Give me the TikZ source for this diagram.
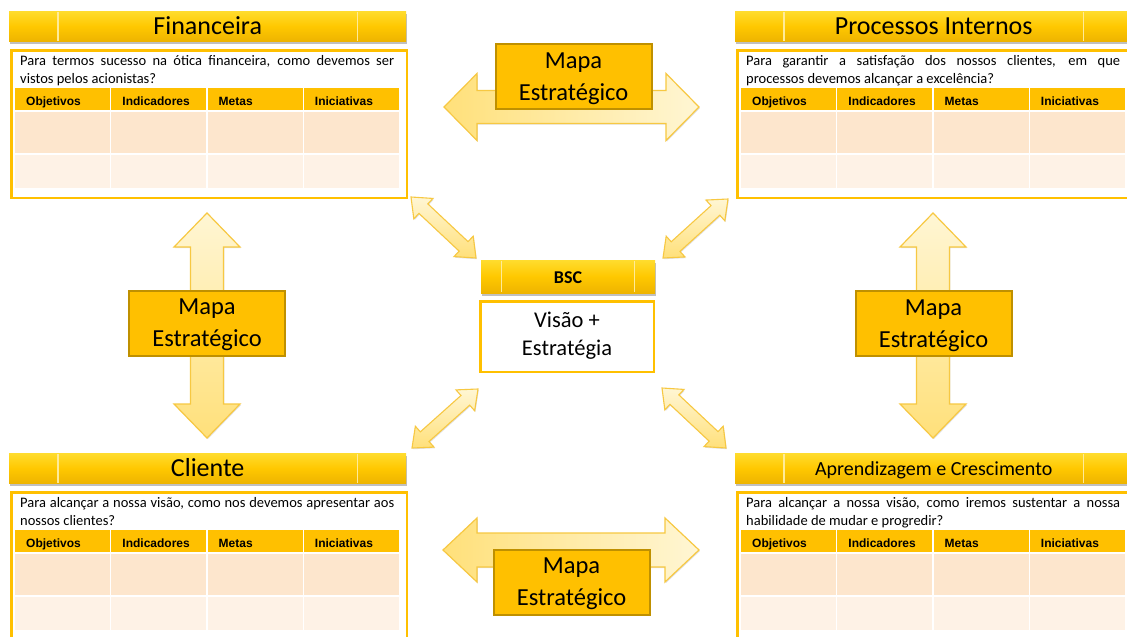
\documentclass[tikz,border=0pt]{standalone}
\usepackage{fontspec}
\setmainfont{Carlito}
\newfontfamily\arialfont{Liberation Sans}
\usetikzlibrary{calc,shadows}

\definecolor{gold}{HTML}{FFC000}
\definecolor{golddark}{HTML}{BF9000}
\definecolor{barhi}{HTML}{FFDC2E}
\definecolor{barmid}{HTML}{FFC800}
\definecolor{barlo}{HTML}{EEB400}
\definecolor{barline}{HTML}{FFEB99}
\definecolor{rowa}{HTML}{FDE6CD}
\definecolor{rowb}{HTML}{FEF2E6}
\definecolor{arrowdeep}{HTML}{FFE07A}
\definecolor{arrowpale}{HTML}{FFF6D4}
\definecolor{arrowline}{HTML}{F7C842}

\tikzset{
  titlebar/.style={minimum height=30pt, inner sep=0pt, text depth=0pt,
    top color=barhi, bottom color=barlo, middle color=barmid,
    drop shadow={shadow xshift=0.6pt, shadow yshift=-2.5pt, opacity=0.35, fill=black!70}},
  divider/.style={draw=barline, line width=1.3pt},
  panelbox/.style={anchor=north west, minimum width=395.5pt, minimum height=147.5pt,
    draw=gold, line width=2.5pt, fill=white, inner sep=0pt},
  hcell/.style={anchor=north west, fill=gold, minimum width=95pt, minimum height=22pt,
    inner xsep=11pt, inner ysep=0pt, text width=73pt, align=left,
    text height=12pt, text depth=0pt,
    font=\arialfont\bfseries\fontsize{12}{12}\selectfont},
  cella/.style={anchor=north west, fill=rowa, minimum width=95pt, minimum height=41pt, inner sep=0pt},
  cellb/.style={anchor=north west, fill=rowb, minimum width=95pt, minimum height=33pt, inner sep=0pt},
  question/.style={anchor=base west, inner sep=0pt, font=\fontsize{14.5}{17}\selectfont},
  mapbox/.style={fill=gold, draw=golddark, line width=2pt, minimum width=156pt,
    minimum height=65pt, align=center, inner sep=0pt, font=\fontsize{24.5}{32}\selectfont},
  bigarrow/.style={draw=arrowline, line width=1.2pt, line join=miter,
    drop shadow={shadow xshift=0.8pt, shadow yshift=-1.2pt, opacity=0.12, fill=black}},
  smallarrow/.style={draw=arrowline, line width=1.1pt, line join=miter,
    top color=arrowpale, bottom color=arrowdeep,
    drop shadow={shadow xshift=0.8pt, shadow yshift=-1.2pt, opacity=0.12, fill=black}},
}

% struts fixing the vertical placement of two-line labels
\newcommand\topstrut[1]{\rule{0pt}{#1}}
\newcommand\botstrut[1]{\rule[-#1]{0pt}{#1}}
\newcommand\maplabel{\topstrut{21pt}Mapa\\Estratégico\botstrut{6pt}}

% double block arrow between two named coordinates:
% #1 name, #2 tail, #3 tip, #4 shaft half width, #5 head half width, #6 head length, #7 style
\newcommand\blockarrow[7]{%
  \coordinate (#1-p) at ($(#2)!#6!(#3)$);
  \coordinate (#1-q) at ($(#3)!#6!(#2)$);
  \path[#7] (#2) -- ($(#1-p)!#5!90:(#3)$) -- ($(#1-p)!#4!90:(#3)$)
    -- ($(#1-q)!#4!90:(#3)$) -- ($(#1-q)!#5!90:(#3)$) -- (#3)
    -- ($(#1-q)!#5!-90:(#3)$) -- ($(#1-q)!#4!-90:(#3)$)
    -- ($(#1-p)!#4!-90:(#3)$) -- ($(#1-p)!#5!-90:(#3)$) -- cycle;
}

% one perspective panel: #1 name, #2/#3 offset, #4 title style, #5 title, #6/#7 question lines
\newcommand\bscpanel[7]{%
  \begin{scope}[shift={(#2,#3)}]
    \node[titlebar, anchor=north west, minimum width=397pt, #4] (#1-bar) at (9,11) {#5};
    \draw[divider] ($(#1-bar.north west)+(49,0.8)$) -- ($(#1-bar.south west)+(49,-0.8)$);
    \draw[divider] ($(#1-bar.north east)+(-49,0.8)$) -- ($(#1-bar.south east)+(-49,-0.8)$);
    \node[panelbox] (#1-box) at (10.25,49.25) {};
    \node[question] (#1-q1) at (20,65) {\makebox[374pt][s]{#6}};
    \node[question] (#1-q2) at (20,83) {#7};
    \foreach \i/\lab in {1/Objetivos,2/Indicadores,3/Metas,4/Iniciativas} {
      \node[hcell] (#1-h\i) at ({15+96.25*(\i-1)},88) {\lab};
      \node[cella] (#1-a\i) at ({15+96.25*(\i-1)},112) {};
      \node[cellb] (#1-b\i) at ({15+96.25*(\i-1)},155) {};
    }
  \end{scope}
}

\begin{document}
\begin{tikzpicture}[x=1pt, y=-1pt]
  \useasboundingbox (0,0) rectangle (1127,637);
  \clip (0,0) rectangle (1127,637);
  \fill[white] (0,0) rectangle (1127,637);

  % four perspectives
  \bscpanel{fin}{0}{0}{font=\fontsize{26}{26}\selectfont, text height=16.6pt}{Financeira}
    {Para termos sucesso na ótica financeira, como devemos ser}{vistos pelos acionistas?}
  \bscpanel{proc}{726}{0}{font=\fontsize{26}{26}\selectfont, text height=16.6pt}{Processos Internos}
    {Para garantir a satisfação dos nossos clientes, em que}{processos devemos alcançar a excelência?}
  \bscpanel{cli}{0}{442}{font=\fontsize{26}{26}\selectfont, text height=16.6pt}{Cliente}
    {Para alcançar a nossa visão, como nos devemos apresentar aos}{nossos clientes?}
  \bscpanel{apr}{726}{442}{font=\fontsize{20}{20}\selectfont, text height=14pt}{Aprendizagem e Crescimento}
    {Para alcançar a nossa visão, como iremos sustentar a nossa}{habilidade de mudar e progredir?}

  % centre: BSC
  \node[titlebar, minimum width=174pt, minimum height=33pt, text height=13.6pt,
    font=\bfseries\fontsize{18}{18}\selectfont] (bsc) at (568,276.5) {BSC};
  \draw[divider] ($(bsc.north west)+(21,0.8)$) -- ($(bsc.south west)+(21,-0.8)$);
  \draw[divider] ($(bsc.north east)+(-21,0.8)$) -- ($(bsc.south east)+(-21,-0.8)$);
  \node[draw=gold, line width=2.5pt, fill=white, minimum width=173.5pt, minimum height=70.5pt,
    inner sep=0pt, align=center, font=\fontsize{22.5}{28.4}\selectfont] (vis) at (567,336.5)
    {\topstrut{18pt}Visão +\\Estratégia\botstrut{8pt}};

  % strategic map arrows between the perspectives
  \coordinate (top-l) at (444,107);  \coordinate (top-r) at (699,107);
  \coordinate (bot-l) at (443,550);  \coordinate (bot-r) at (699,550);
  \coordinate (lft-t) at (207,213);  \coordinate (lft-b) at (207,438);
  \coordinate (rgt-t) at (933,213);  \coordinate (rgt-b) at (933,438);
  \blockarrow{ta}{top-l}{top-r}{16.5pt}{33.5pt}{33pt}{bigarrow, left color=arrowdeep, right color=arrowpale}
  \blockarrow{ba}{bot-l}{bot-r}{17pt}{32pt}{34pt}{bigarrow, left color=arrowdeep, right color=arrowpale}
  \blockarrow{la}{lft-t}{lft-b}{16.5pt}{33pt}{34pt}{bigarrow, top color=arrowpale, bottom color=arrowdeep}
  \blockarrow{ra}{rgt-t}{rgt-b}{16.5pt}{33pt}{34pt}{bigarrow, top color=arrowpale, bottom color=arrowdeep}

  % links from the centre to each perspective
  \coordinate (d1a) at (411,197);  \coordinate (d1b) at (476,258);
  \coordinate (d2a) at (728,199);  \coordinate (d2b) at (663,258);
  \coordinate (d3a) at (478,389);  \coordinate (d3b) at (412,448);
  \coordinate (d4a) at (662,388);  \coordinate (d4b) at (726,448);
  \blockarrow{d1}{d1a}{d1b}{6.5pt}{14pt}{17pt}{smallarrow}
  \blockarrow{d2}{d2a}{d2b}{6.5pt}{14pt}{17pt}{smallarrow}
  \blockarrow{d3}{d3a}{d3b}{6.5pt}{14pt}{17pt}{smallarrow}
  \blockarrow{d4}{d4a}{d4b}{6.5pt}{14pt}{17pt}{smallarrow}

  % labels on the map arrows
  \node[mapbox] (map-top) at (573.5,76.5) {\maplabel};
  \node[mapbox] (map-bot) at (571.5,582) {\maplabel};
  \node[mapbox] (map-lft) at (207,323) {\maplabel};
  \node[mapbox] (map-rgt) at (933.5,323.5) {\maplabel};
\end{tikzpicture}
\end{document}
